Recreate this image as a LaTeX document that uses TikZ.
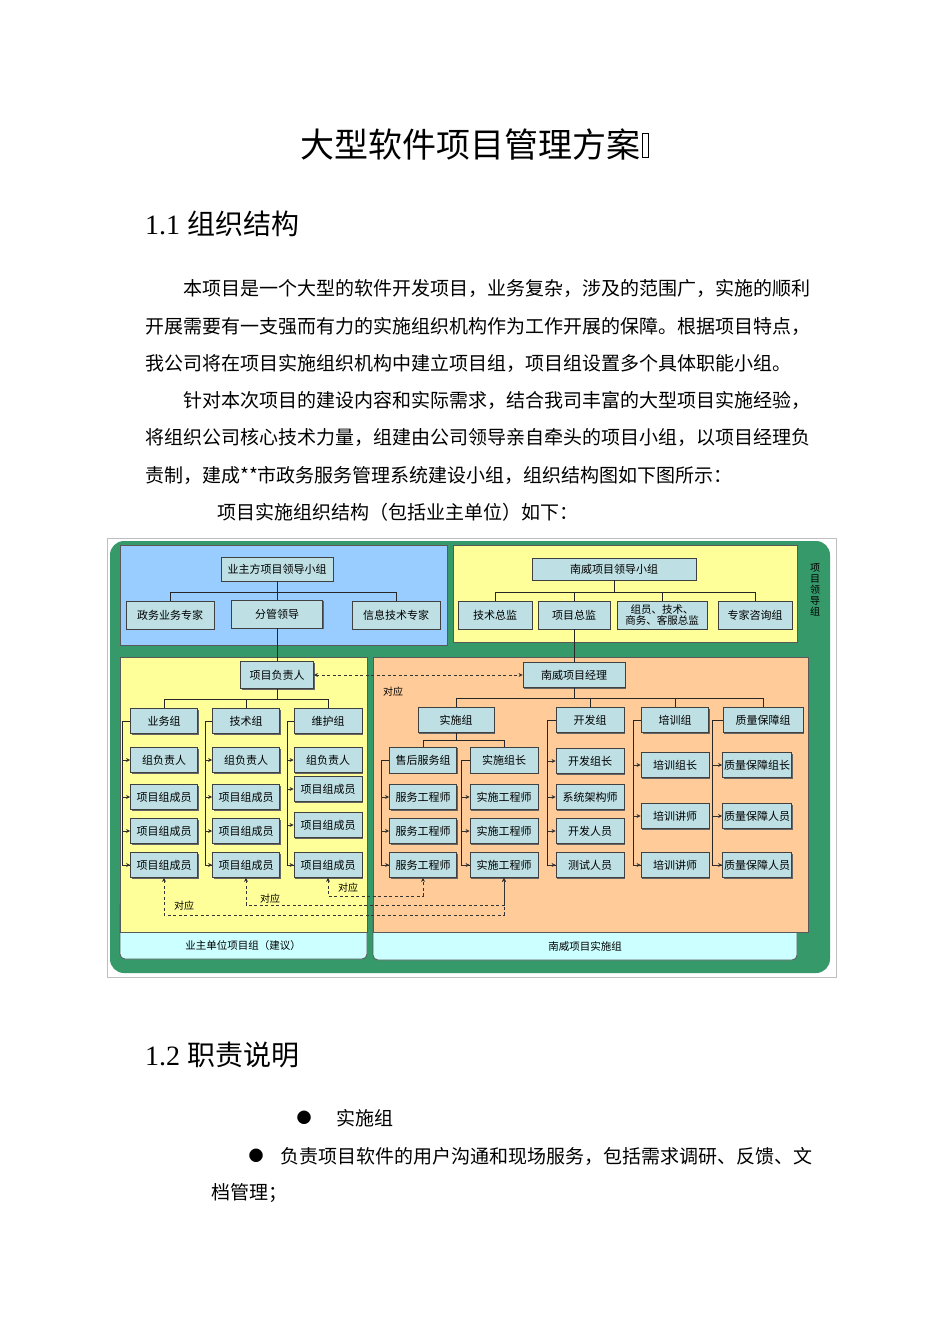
\documentclass[tikz,border=0pt]{standalone}
\usepackage{fontspec}
\setmainfont{Liberation Serif}
\newfontfamily\cjk{Noto Sans CJK SC}
\usetikzlibrary{arrows.meta, positioning, shadows}
\definecolor{orgGreen}{HTML}{36996A}
\definecolor{orgBlue}{HTML}{99CCFF}
\definecolor{orgYellow}{HTML}{FFFF99}
\definecolor{orgOrange}{HTML}{FFCC99}
\definecolor{orgCyan}{HTML}{CCFFFF}
\definecolor{orgBox}{HTML}{BEDFE3}
\tikzset{
  orgbox/.style   = {draw=black!75, line width=0.8pt, fill=orgBox, inner sep=1pt,
                     minimum width=#1, minimum height=25pt, align=center,
                     font=\cjk\fontsize{11}{12}\selectfont,
                     drop shadow={shadow xshift=1.2pt, shadow yshift=-1.2pt,
                                  fill=black!60, opacity=1}},
  orgbox/.default = 67pt,
  panel/.style    = {draw=black!65, line width=0.8pt},
  tree/.style     = {black!85, line width=0.8pt},
  feed/.style     = {black!80, line width=0.8pt, -{Stealth[length=4pt, width=4pt]}},
  link/.style     = {black!80, line width=0.7pt, dash pattern=on 3pt off 2.5pt,
                     {Stealth[length=4pt, width=4pt]}-{Stealth[length=4pt, width=4pt]}},
  tag/.style      = {font=\cjk\fontsize{10}{10}\selectfont, inner sep=1pt},
  body/.style     = {anchor=west, inner sep=0pt, font=\cjk\fontsize{19}{19}\selectfont},
  head/.style     = {anchor=west, inner sep=0pt, font=\fontsize{28}{28}\selectfont},
  bul/.style      = {inner sep=0pt, font=\cjk\fontsize{15}{15}\selectfont},
  tofu/.style     = {draw, line width=0.6pt, minimum width=6pt, minimum height=24pt,
                     inner sep=0pt},
}
\begin{document}
\begin{tikzpicture}[x=1pt, y=-1pt]
  \useasboundingbox[fill=white] (0,0) rectangle (950,1344);

  % page text
  \node[body, font=\cjk\fontsize{34}{34}\selectfont] (title) at (300,145)
    {大型软件项目管理方案};
  \node[tofu, right=2pt of title] (tofu) {};
  \node[head] (h11) at (145,224) {1.1 {\cjk 组织结构}};
  \node[body] (p1) at (183,288) {本项目是一个大型的软件开发项目，业务复杂，涉及的范围广，实施的顺利};
  \node[body] (p2) at (145,326) {开展需要有一支强而有力的实施组织机构作为工作开展的保障。根据项目特点，};
  \node[body] (p3) at (145,363) {我公司将在项目实施组织机构中建立项目组，项目组设置多个具体职能小组。};
  \node[body] (p4) at (183,400) {针对本次项目的建设内容和实际需求，结合我司丰富的大型项目实施经验，};
  \node[body] (p5) at (145,437) {将组织公司核心技术力量，组建由公司领导亲自牵头的项目小组，以项目经理负};
  \node[body] (p6) at (145,475) {责制，建成**市政务服务管理系统建设小组，组织结构图如下图所示：};
  \node[body] (p7) at (217,512) {项目实施组织结构（包括业主单位）如下：};

  % diagram background
  \draw[black!25, fill=white] (107,538) rectangle (836,977);
  \fill[orgGreen, rounded corners=14pt] (110,541) rectangle (830,973);
  \draw[panel, fill=orgBlue] (120,545) rectangle (447,645);
  \draw[panel, fill=orgYellow] (453,545) rectangle (797,642);
  \node[align=center, font=\cjk\fontsize{10}{11}\selectfont] (ldz) at (815,590)
    {项\\目\\领\\导\\组};
  \draw[panel, fill=orgCyan, rounded corners=5pt] (120,900) rectangle (367,959);
  \draw[panel, fill=orgCyan, rounded corners=5pt] (373,900) rectangle (797,960);
  \draw[panel, fill=orgYellow] (120,657) rectangle (367,932);
  \draw[panel, fill=orgOrange] (373,657) rectangle (808,932);
  \node[tag, font=\cjk\fontsize{10.5}{11}\selectfont] (yzdw) at (243,945) {业主单位项目组（建议）};
  \node[tag, font=\cjk\fontsize{10.5}{11}\selectfont] (nwss) at (585,946) {南威项目实施组};

  % leadership
  \node[orgbox=112pt, minimum height=24pt] (yz) at (277,569) {业主方项目领导小组};
  \node[orgbox=88pt, minimum height=28pt] (zw) at (170,615) {政务业务专家};
  \node[orgbox=91pt, minimum height=28pt] (fg) at (277,614) {分管领导};
  \node[orgbox=88pt, minimum height=28pt] (xx) at (396,615) {信息技术专家};
  \node[orgbox=164pt, minimum height=22pt] (nwld) at (614,569) {南威项目领导小组};
  \node[orgbox=74pt, minimum height=28pt] (jszj) at (495,615) {技术总监};
  \node[orgbox=72pt, minimum height=28pt] (xmzj) at (574,615) {项目总监};
  \node[orgbox=90pt, minimum height=28pt, font=\cjk\fontsize{10.5}{11}\selectfont]
    (zyzj) at (662,615) {组员、技术、\\商务、客服总监};
  \node[orgbox=74pt, minimum height=28pt] (zjzx) at (755,615) {专家咨询组};

  \draw[tree] (yz.south) -- ++(0,11) coordinate (yzbus);
  \foreach \c in {zw, fg, xx} \draw[tree] (yzbus) -| (\c.north);
  \draw[tree] (nwld.south) -- ++(0,12) coordinate (nwbus);
  \foreach \c in {jszj, xmzj, zyzj, zjzx} \draw[tree] (nwbus) -| (\c.north);

  % owner side
  \node[orgbox=73pt, minimum height=27pt] (xmfz) at (277,675) {项目负责人};
  \node[orgbox] (ywz) at (164,721) {业务组};
  \node[orgbox] (jsz) at (246,721) {技术组};
  \node[orgbox=68pt] (whz) at (328,721) {维护组};
  \foreach \nm/\yy [count=\i] in {组负责人/760, 项目组成员/797, 项目组成员/831, 项目组成员/865}
    \node[orgbox] (yw\i) at (164,\yy) {\nm};
  \foreach \nm/\yy [count=\i] in {组负责人/760, 项目组成员/797, 项目组成员/831, 项目组成员/865}
    \node[orgbox] (js\i) at (246,\yy) {\nm};
  \foreach \nm/\yy [count=\i] in {组负责人/760, 项目组成员/789, 项目组成员/825, 项目组成员/865}
    \node[orgbox=68pt] (wh\i) at (328,\yy) {\nm};

  \draw[tree] (fg.south) -- (xmfz.north);
  \draw[tree] (xmfz.south) -- ++(0,10) coordinate (fzbus);
  \foreach \c in {ywz, jsz, whz} \draw[tree] (fzbus) -| (\c.north);

  % vendor side
  \node[orgbox=102pt] (nwjl) at (574,675) {南威项目经理};
  \node[orgbox=76pt] (ssz) at (456,720) {实施组};
  \node[orgbox=68pt] (kfz) at (590,720) {开发组};
  \node[orgbox] (pxz) at (675,720) {培训组};
  \node[orgbox=80pt] (zlz) at (763,720) {质量保障组};
  \node[orgbox, minimum height=26pt] (shfw) at (423,760) {售后服务组};
  \node[orgbox=68pt, minimum height=26pt] (sszz) at (504,760) {实施组长};
  \foreach \yy [count=\i] in {797, 831, 865} {
    \node[orgbox] (fw\i) at (423,\yy) {服务工程师};
    \node[orgbox=68pt] (ss\i) at (504,\yy) {实施工程师};
  }
  \foreach \nm/\yy [count=\i] in {开发组长/761, 系统架构师/797, 开发人员/831, 测试人员/865}
    \node[orgbox=68pt] (kf\i) at (590,\yy) {\nm};
  \foreach \nm/\yy [count=\i] in {培训组长/765, 培训讲师/816, 培训讲师/865}
    \node[orgbox=68pt] (px\i) at (675,\yy) {\nm};
  \foreach \nm/\yy [count=\i] in {质量保障组长/765, 质量保障人员/816, 质量保障人员/865}
    \node[orgbox=69pt] (zl\i) at (757,\yy) {\nm};

  \draw[tree] (xmzj.south) -- (nwjl.north);
  \draw[tree] (nwjl.south) -- ++(0,10) coordinate (jlbus);
  \foreach \c in {ssz, kfz, pxz, zlz} \draw[tree] (jlbus) -| (\c.north);
  \draw[tree] (ssz.south) -- ++(0,7) coordinate (ssbus);
  \foreach \c in {shfw, sszz} \draw[tree] (ssbus) -| (\c.north);

  % member brackets
  \foreach \grp/\kid/\n/\dx in {ywz/yw/4/8, jsz/js/4/7, whz/wh/4/6, shfw/fw/3/8,
                                sszz/ss/3/8, kfz/kf/4/8, pxz/px/3/8, zlz/zl/3/10} {
    \draw[tree] (\grp.west) -- ++(-\dx,0) coordinate (\grp-b) |- (\kid\n.west);
    \foreach \i in {1,...,\n}
      \draw[feed] (\grp-b |- \kid\i.west) -- (\kid\i.west);
  }

  % correspondences
  \draw[link] (xmfz.east) -- (nwjl.west);
  \node[tag] (dy0) at (393,692) {对应};
  \draw[link] (yw4.south) -- ++(0,37) -| (ss3.south);
  \draw[link] (js4.south) -- ++(0,27) -| (ss3.south);
  \draw[link] (wh4.south) -- ++(0,18) -| (fw3.south);
  \node[tag] (dy1) at (184,906) {对应};
  \node[tag] (dy2) at (270,899) {对应};
  \node[tag] (dy3) at (348,888) {对应};

  % duties
  \node[head] (h12) at (145,1055) {1.2 {\cjk 职责说明}};
  \node[bul] (b1) at (304,1118) {●};
  \node[body] (t1) at (336,1118) {实施组};
  \node[bul] (b2) at (256,1156) {●};
  \node[body] (t2) at (280,1156) {负责项目软件的用户沟通和现场服务，包括需求调研、反馈、文};
  \node[body] (t3) at (211,1193) {档管理；};
\end{tikzpicture}
\end{document}
